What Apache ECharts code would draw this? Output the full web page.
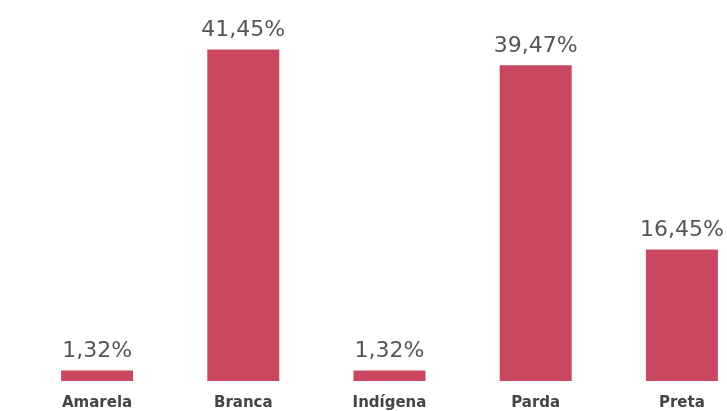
<!DOCTYPE html>
<html>
<head>
<meta charset="utf-8">
<script src="https://cdn.jsdelivr.net/npm/echarts@6/dist/echarts.min.js"></script>
<style>html,body{margin:0;padding:0;background:#fff;overflow:hidden;width:727px;height:411px}#c{width:760px;height:411px}</style>
</head>
<body>
<div id="c"></div>
<script>
var categories = ['Amarela', 'Branca', 'Indígena', 'Parda', 'Preta'];
var values = [1.32, 41.45, 1.32, 39.47, 16.45];

var chart = echarts.init(document.getElementById('c'), null, {renderer: 'canvas'});
chart.setOption({
  animation: false,
  backgroundColor: '#ffffff',
  grid: {left: 24, width: 731, top: 21, bottom: 30, containLabel: false},
  xAxis: {
    type: 'category',
    data: categories,
    axisLine: {show: false},
    axisTick: {show: false},
    axisLabel: {
      margin: 15,
      color: '#444',
      fontFamily: 'DejaVu Sans',
      fontWeight: 'bold',
      fontSize: 15
    }
  },
  yAxis: {
    type: 'value',
    min: 0,
    max: 45,
    show: false,
    splitLine: {show: false}
  },
  series: [{
    type: 'bar',
    data: values,
    barWidth: 72,
    itemStyle: {color: '#c9485f'},
    label: {
      show: true,
      position: 'top',
      distance: 8,
      color: '#555',
      fontFamily: 'DejaVu Sans',
      fontSize: 22,
      formatter: function (p) { return p.value.toFixed(2).replace('.', ',') + '%'; }
    }
  }]
});
</script>
</body>
</html>
